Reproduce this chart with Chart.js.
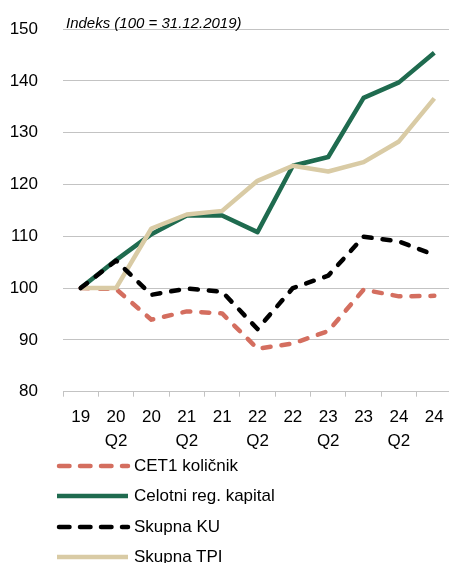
<!DOCTYPE html>
<html>
<head>
<meta charset="utf-8">
<script src="https://cdn.jsdelivr.net/npm/chart.js@4"></script>
<style>
    html, body { margin: 0; padding: 0; background: #fff; overflow: hidden; }
    #wrap { position: relative; width: 452px; height: 563px; }
    #chartBox { position: absolute; left: 0; top: 0; width: 452px; height: 462px; }
    #legend { position: absolute; left: 0; top: 451px; font-family: "Liberation Sans", Arial, sans-serif; font-size: 17px; color: #000; }
    .item { position: relative; height: 30.3px; }
    .item svg { position: absolute; left: 55px; top: 0; }
    .item span { position: absolute; left: 134px; top: 5px; white-space: nowrap; }
</style>
</head>
<body>
<div id="wrap">
    <div id="chartBox"><canvas id="capitalChart"></canvas></div>
    <div id="legend"></div>
</div>
<script>
const labels = [['19'], ['20', 'Q2'], ['20'], ['21', 'Q2'], ['21'], ['22', 'Q2'], ['22'], ['23', 'Q2'], ['23'], ['24', 'Q2'], ['24']];

const cet1 = [100, 99.8, 93.9, 95.5, 95.1, 88.3, 89.3, 91.7, 99.7, 98.4, 98.5];
const totalCapital = [100, 105.4, 110.4, 114.0, 114.0, 110.8, 123.6, 125.3, 136.7, 139.7, 145.4];
const totalKU = [100, 105.3, 98.7, 99.9, 99.3, 92.1, 100.0, 102.4, 109.9, 109.0, 106.4];
const totalTPI = [100, 100, 111.5, 114.2, 114.9, 120.7, 123.6, 122.5, 124.3, 128.3, 136.6];

const yTicks = [80, 90, 100, 110, 120, 130, 140, 150];
const axisTitle = 'Indeks (100 = 31.12.2019)';

const gridColor = '#c3c3c3';
const font = { family: '"Liberation Sans", Arial, sans-serif', size: 17 };

function lineSet(label, data, color, dashed, order) {
    return {
        label: label,
        data: data,
        borderColor: color,
        backgroundColor: color,
        borderWidth: 4.5,
        borderDash: dashed ? [8, 11] : [],
        borderCapStyle: dashed ? 'round' : 'butt',
        borderJoinStyle: 'round',
        pointRadius: 0,
        tension: 0,
        fill: false,
        order: order
    };
}

const datasets = [
    lineSet('CET1 količnik', cet1, '#d46e5f', true, 3),
    lineSet('Celotni reg. kapital', totalCapital, '#1f6b4f', false, 2),
    lineSet('Skupna KU', totalKU, '#000000', true, 0),
    lineSet('Skupna TPI', totalTPI, '#d9cba5', false, 1)
];

// index note above the plot, left aligned with the first category
const notePlugin = {
    id: 'indexNote',
    afterDraw(chart) {
        const ctx = chart.ctx;
        ctx.save();
        ctx.font = 'italic 15px "Liberation Sans", Arial, sans-serif';
        ctx.fillStyle = '#000';
        ctx.textAlign = 'left';
        ctx.textBaseline = 'alphabetic';
        ctx.fillText(axisTitle, chart.chartArea.left + 3, 28);
        ctx.restore();
    }
};

const ctx = document.getElementById('capitalChart').getContext('2d');
const chart = new Chart(ctx, {
    type: 'line',
    data: { labels: labels, datasets: datasets },
    options: {
        responsive: true,
        maintainAspectRatio: false,
        animation: false,
        layout: { padding: { top: 29, left: 10, right: 0, bottom: 0 } },
        plugins: {
            legend: { display: false },
            tooltip: { enabled: false }
        },
        scales: {
            x: {
                offset: true,
                grid: { offset: true, drawOnChartArea: false, drawTicks: true, tickLength: 5, color: gridColor },
                border: { color: gridColor },
                ticks: { font: { ...font, lineHeight: 1.45 }, color: '#000', padding: 8, maxRotation: 0, autoSkip: false }
            },
            y: {
                min: yTicks[0],
                max: yTicks[yTicks.length - 1],
                afterBuildTicks: axis => { axis.ticks = yTicks.map(v => ({ value: v })); },
                afterFit: axis => {
                    // keep the label column narrow and the plot top flush with the padding
                    axis.width = 53;
                    axis.paddingTop = 9;
                    axis.paddingBottom = 9;
                },
                grid: { color: gridColor, drawTicks: false },
                border: { display: false },
                ticks: { font: font, color: '#000', padding: 25 }
            }
        }
    },
    plugins: [notePlugin]
});

// legend list under the chart
const legend = document.getElementById('legend');
datasets.forEach(ds => {
    const item = document.createElement('div');
    item.className = 'item';
    const dash = ds.borderDash.length ? 'stroke-dasharray="10.5 10.5" stroke-linecap="round"' : 'stroke-linecap="butt"';
    item.innerHTML = '<svg width="76" height="30"><line x1="' + (ds.borderDash.length ? 4 : 2) + '" y1="15" x2="73" y2="15" stroke="' +
        ds.borderColor + '" stroke-width="4.5" ' + dash + '/></svg>';
    const text = document.createElement('span');
    text.textContent = ds.label;
    item.appendChild(text);
    legend.appendChild(item);
});
</script>
</body>
</html>
